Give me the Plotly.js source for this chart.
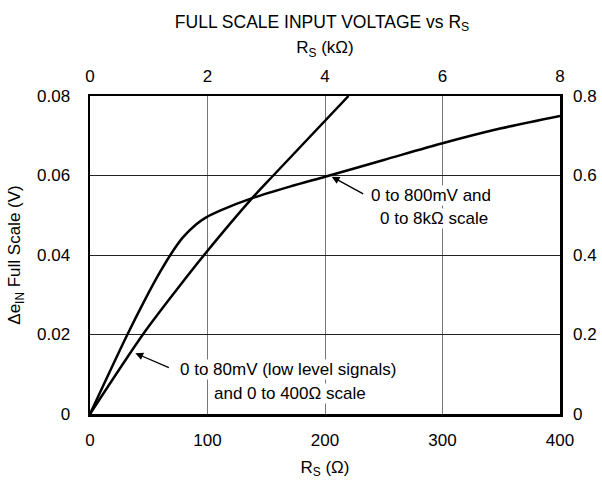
<!DOCTYPE html>
<html>
<head>
<meta charset="utf-8">
<script src="https://cdn.plot.ly/plotly-3.0.1.min.js"></script>
<style>html,body{margin:0;padding:0;background:#fff;}#chart{width:602px;height:481px;}</style>
</head>
<body>
<div id="chart"></div>
<script>
// Curve: 0 to 800mV and 0 to 8kΩ scale
var rsHighX = [0, 31, 47.6, 59.4, 68.8, 78.7, 90, 98.5, 112.7, 138, 170, 200, 250, 300, 349, 400];
var veHighY = [0, 0.0195, 0.0292, 0.0356, 0.0402, 0.0443, 0.0476, 0.0494, 0.0514, 0.0543, 0.0572, 0.0597, 0.0639, 0.0681, 0.0718, 0.075];
// Curve: 0 to 80mV (low level signals) and 0 to 400Ω scale
var rsLowX = [0, 45, 73.6, 98.5, 138, 156, 220];
var veLowY = [0, 0.02, 0.0312, 0.0405, 0.0543, 0.06, 0.08];

var bottomTicks = [0, 100, 200, 300, 400];
var topTicks = [0, 2, 4, 6, 8];
var leftTicks = [0, 0.02, 0.04, 0.06, 0.08];
var leftTickText = ['0', '0.02', '0.04', '0.06', '0.08'];
var rightTicks = [0, 0.2, 0.4, 0.6, 0.8];
var rightTickText = ['0', '0.2', '0.4', '0.6', '0.8'];

var F = 'Liberation Sans, Arial, sans-serif';
var lineStyle = {color: '#000', width: 2.5, shape: 'spline', smoothing: 0.8};

var traces = [
  {x: rsHighX, y: veHighY, mode: 'lines', line: lineStyle, xaxis: 'x', yaxis: 'y', hoverinfo: 'skip'},
  {x: rsLowX, y: veLowY, mode: 'lines', line: lineStyle, xaxis: 'x', yaxis: 'y', hoverinfo: 'skip'},
  {x: [], y: [], mode: 'lines', xaxis: 'x2', yaxis: 'y2', hoverinfo: 'skip'}
];

var txt = function(x, y, t) {
  return {x: x, y: y, xref: 'x', yref: 'y', text: t, showarrow: false, bgcolor: '#fff',
          borderpad: 0, font: {family: F, size: 17, color: '#000'}, xanchor: 'center', yanchor: 'middle'};
};
var arr = function(x, y, ax, ay) {
  return {x: x, y: y, xref: 'x', yref: 'y', text: '', showarrow: true, ax: ax, ay: ay,
          arrowhead: 2, arrowsize: 1.2, arrowwidth: 1.3, arrowcolor: '#000'};
};

var layout = {
  width: 602, height: 481,
  margin: {l: 89.5, r: 41.5, t: 96, b: 67},
  paper_bgcolor: '#fff', plot_bgcolor: '#fff',
  showlegend: false,
  font: {family: F, size: 17, color: '#000'},
  title: {text: 'FULL SCALE INPUT VOLTAGE vs R<sub>S</sub>', font: {family: F, size: 17.5, color: '#000'},
          x: 0.535, xanchor: 'center', y: 0.955, yanchor: 'middle', yref: 'container'},
  xaxis: {range: [0, 400], tickvals: bottomTicks, ticktext: bottomTicks.map(String), ticks: '',
          showgrid: true, gridcolor: '#777', gridwidth: 1, zeroline: false,
          showline: true, linecolor: '#000', linewidth: 2.5, mirror: true,
          ticklabelstandoff: 9,
          title: {text: 'R<sub>S</sub> (Ω)', font: {family: F, size: 17}, standoff: 12}},
  yaxis: {range: [0, 0.08], tickvals: leftTicks, ticktext: leftTickText, ticks: '',
          showgrid: true, gridcolor: '#222', gridwidth: 1, zeroline: false,
          showline: true, linecolor: '#000', linewidth: 2.5, mirror: true,
          ticklabelstandoff: 14,
          title: {text: 'Δe<sub>IN</sub> Full Scale (V)', font: {family: F, size: 17}, standoff: 12}},
  xaxis2: {range: [0, 8], overlaying: 'x', side: 'top', anchor: 'y', tickvals: topTicks, ticktext: topTicks.map(String),
           ticks: '', showgrid: false, zeroline: false, showline: false, ticklabelstandoff: 10,
           title: {text: 'R<sub>S</sub> (kΩ)', font: {family: F, size: 17}, standoff: 8}},
  yaxis2: {range: [0, 0.8], overlaying: 'y', side: 'right', anchor: 'x', tickvals: rightTicks, ticktext: rightTickText,
           ticks: '', showgrid: false, zeroline: false, showline: false, ticklabelstandoff: 12},
  annotations: [
    txt(168.1, 0.01132, '0 to 80mV (low level signals)'),
    txt(169.9, 0.00528, 'and 0 to 400Ω scale'),
    txt(290.4, 0.05485, '0 to 800mV and'),
    txt(293, 0.04906, '0 to 8kΩ scale'),
    arr(38.6, 0.0153, 35, 15),
    arr(205.7, 0.0597, 33, 18)
  ]
};

Plotly.newPlot('chart', traces, layout, {displayModeBar: false, staticPlot: true});
</script>
</body>
</html>
